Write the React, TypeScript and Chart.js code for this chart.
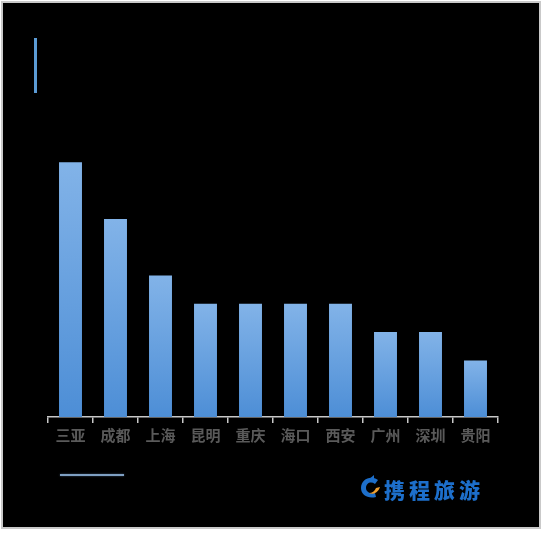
import React, { useEffect, useRef } from "react";
import { Chart, registerables } from "chart.js";

Chart.register(...registerables);

// Destinations and their relative values
const cities: string[] = ["三亚", "成都", "上海", "昆明", "重庆", "海口", "西安", "广州", "深圳", "贵阳"];
const values: number[] = [9, 7, 5, 4, 4, 4, 4, 3, 3, 2];
const yMax = 10;
const brandName = "携程旅游";

const BAR_TOP = "#82b3e8";
const BAR_BOTTOM = "#4d8ed6";

function barFill(ctx: any) {
  const chart = ctx.chart;
  const y = chart.scales && chart.scales.y;
  if (!y || ctx.dataIndex === undefined) return BAR_BOTTOM;
  const v = ctx.dataset.data[ctx.dataIndex];
  const top = y.getPixelForValue(v);
  const base = y.getPixelForValue(0);
  if (!isFinite(top) || !isFinite(base) || top === base) return BAR_BOTTOM;
  const g = chart.ctx.createLinearGradient(0, top, 0, base);
  g.addColorStop(0, BAR_TOP);
  g.addColorStop(1, BAR_BOTTOM);
  return g;
}

function BarChart() {
  const ref = useRef<HTMLCanvasElement | null>(null);
  useEffect(() => {
    if (!ref.current) return;
    const chart = new Chart(ref.current, {
      type: "bar",
      data: {
        labels: cities,
        datasets: [
          {
            data: values,
            backgroundColor: barFill,
            borderWidth: 0,
            categoryPercentage: 1,
            barPercentage: 0.51,
          },
        ],
      },
      options: {
        animation: false,
        responsive: false,
        devicePixelRatio: 1,
        layout: { padding: { left: 45, right: 40, top: 131, bottom: 81 } },
        plugins: {
          legend: { display: false },
          tooltip: { enabled: false },
        },
        scales: {
          x: {
            offset: true,
            grid: {
              offset: true,
              drawOnChartArea: false,
              drawTicks: true,
              tickLength: 6,
              color: "#c8c8c8",
              lineWidth: 1.5,
            },
            border: { display: true, color: "#c8c8c8", width: 1.5 },
            ticks: {
              color: "#5a5a5a",
              padding: 3,
              font: { family: "'Noto Sans CJK SC', sans-serif", size: 15, weight: "bold" },
            },
          },
          y: {
            display: false,
            min: 0,
            max: yMax,
          },
        },
      },
    });
    return () => chart.destroy();
  }, []);
  return <canvas ref={ref} width={535} height={525} style={{ position: "absolute", left: 0, top: 0 }} />;
}

export default function App() {
  return (
    <div style={{ position: "fixed", left: 0, top: 0, width: 545, height: 533, background: "#ffffff" }}>
      <div
        style={{
          position: "absolute",
          left: 1,
          top: 1,
          width: 536,
          height: 524,
          background: "#000000",
          border: "2px solid #c9c9c9",
          overflow: "hidden",
        }}
      >
        <BarChart />
        <div style={{ position: "absolute", left: 31, top: 35, width: 3, height: 55, background: "#5b9bd5" }} />
        <div
          style={{
            position: "absolute",
            left: 57,
            top: 471,
            width: 64,
            height: 2,
            background: "#7e9fc2",
            boxShadow: "0 0 2px #3d5670",
          }}
        />
        <svg style={{ position: "absolute", left: 357, top: 472 }} width={22} height={24} viewBox="0 0 22 24">
          <path d="M18 5 C11 0 1 4 1 13 C1 20 8 24 16 22 L15 18 C10 19 6 17 6 13 C6 8 11 6 15 9 Z" fill="#1d6fcb" />
          <path d="M8 5 L14 0 L14 6 Z" fill="#1d6fcb" />
          <path d="M9 18 C13 20 18 18 20 12 L16 13 C15 16 12 18 9 18 Z" fill="#f0a030" />
        </svg>
        <div
          style={{
            position: "absolute",
            left: 381,
            top: 474,
            fontFamily: "'Noto Sans CJK SC', sans-serif",
            fontWeight: 900,
            fontSize: 21,
            lineHeight: "24px",
            color: "#1d6fcb",
            letterSpacing: 4,
            whiteSpace: "nowrap",
          }}
        >
          {brandName}
        </div>
      </div>
    </div>
  );
}
